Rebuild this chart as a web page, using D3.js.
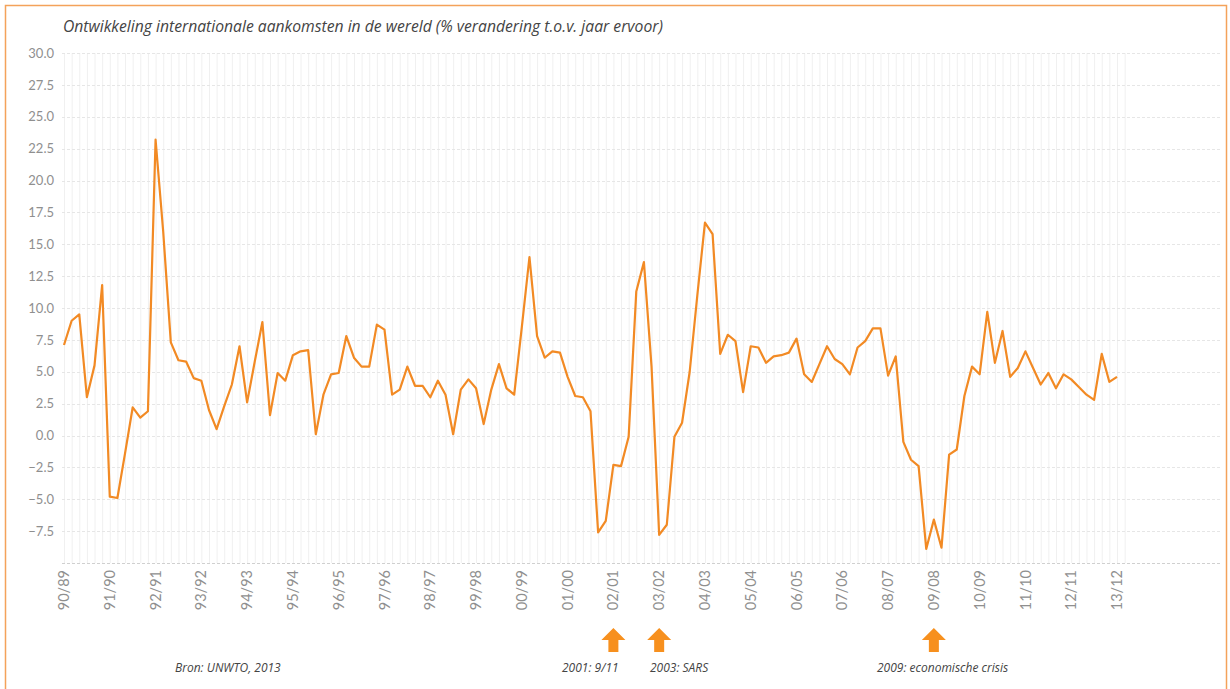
<!DOCTYPE html>
<html>
<head>
<meta charset="utf-8">
<script src="https://cdn.jsdelivr.net/npm/d3@7"></script>
<style>
  html, body { margin: 0; padding: 0; background: #fff; }
  svg { display: block; }
</style>
</head>
<body>
<svg id="chart" width="1230" height="689"></svg>
<script>
const title = "Ontwikkeling internationale aankomsten in de wereld (% verandering t.o.v. jaar ervoor)";
const yearLabels = ["90/89","91/90","92/91","93/92","94/93","95/94","96/95","97/96","98/97","99/98","00/99","01/00",
  "02/01","03/02","04/03","05/04","06/05","07/06","08/07","09/08","10/09","11/10","12/11","13/12"];
const pointsPerLabel = 6;
const values = [
  7.1, 9.0, 9.5, 3.0, 5.5, 11.8, -4.8, -4.9, -1.4, 2.2, 1.4, 1.9,
  23.2, 16.0, 7.3, 5.9, 5.8, 4.5, 4.3, 2.0, 0.5, 2.3, 4.0, 7.0,
  2.6, 5.8, 8.9, 1.6, 4.9, 4.3, 6.3, 6.6, 6.7, 0.1, 3.2, 4.8,
  4.9, 7.8, 6.1, 5.4, 5.4, 8.7, 8.3, 3.2, 3.6, 5.4, 3.9, 3.9,
  3.0, 4.3, 3.2, 0.1, 3.6, 4.4, 3.7, 0.9, 3.6, 5.6, 3.7, 3.2,
  8.5, 14.0, 7.8, 6.1, 6.6, 6.5, 4.6, 3.1, 3.0, 1.9, -7.6, -6.7,
  -2.3, -2.4, -0.1, 11.3, 13.6, 5.4, -7.8, -7.0, -0.1, 1.0, 5.0, 11.0,
  16.7, 15.8, 6.4, 7.9, 7.4, 3.4, 7.0, 6.9, 5.7, 6.2, 6.3, 6.5,
  7.6, 4.8, 4.2, 5.6, 7.0, 6.0, 5.6, 4.8, 6.9, 7.4, 8.4, 8.4,
  4.7, 6.2, -0.5, -1.9, -2.4, -8.9, -6.6, -8.8, -1.5, -1.1, 3.1, 5.4,
  4.8, 9.7, 5.7, 8.2, 4.6, 5.3, 6.6, 5.3, 4.0, 4.9, 3.7, 4.8,
  4.4, 3.8, 3.2, 2.8, 6.4, 4.2, 4.6
];
const yTicks = [-7.5, -5, -2.5, 0, 2.5, 5, 7.5, 10, 12.5, 15, 17.5, 20, 22.5, 25, 27.5, 30];
const yMin = -10, yMax = 30;
const events = [
  { label: "02/01", text: "2001: 9/11" },
  { label: "03/02", text: "2003: SARS" },
  { label: "09/08", text: "2009: economische crisis" }
];
const source = "Bron: UNWTO, 2013";

const svg = d3.select("#chart");
const orange = "#f28a24";

// frame
svg.append("rect").attr("x", 5.5).attr("y", 5.5).attr("width", 1221).attr("height", 700)
  .attr("fill", "none").attr("stroke", "#f4a25a").attr("stroke-width", 1.5);

const x = d3.scaleLinear().domain([0, values.length - 1]).range([64, 1117]);
const y = d3.scaleLinear().domain([yMin, yMax]).range([563, 53]);

// vertical grid
svg.append("g").selectAll("line").data(d3.range(values.length + 1)).join("line")
  .attr("x1", d => x(d) + 0.5).attr("x2", d => x(d) + 0.5)
  .attr("y1", y(yMax)).attr("y2", y(yMin))
  .attr("stroke", "#f0f0f0").attr("stroke-width", 1);

// horizontal grid
svg.append("g").selectAll("line").data([yMin].concat(yTicks)).join("line")
  .attr("x1", 62).attr("x2", 1222)
  .attr("y1", d => Math.round(y(d)) + 0.5).attr("y2", d => Math.round(y(d)) + 0.5)
  .attr("stroke", d => d === yMin ? "#d0d0d0" : "#e6e6e6")
  .attr("stroke-dasharray", "3,2").attr("stroke-width", 1);

// y axis labels
const yAxis = d3.axisLeft(y).tickValues(yTicks).tickFormat(d3.format(".1f")).tickSize(0).tickPadding(0);
const gy = svg.append("g").attr("transform", "translate(54,0)").call(yAxis);
gy.select(".domain").remove();
gy.selectAll("text").attr("font-family", "Lato, 'Open Sans', sans-serif").attr("font-size", 13)
  .attr("fill", "#8f8f8f");

// x axis labels
const xTickIdx = yearLabels.map((d, i) => i * pointsPerLabel);
const xAxis = d3.axisBottom(x).tickValues(xTickIdx).tickFormat((d, i) => yearLabels[i]).tickSize(0).tickPadding(0);
const gx = svg.append("g").attr("transform", "translate(0,570)").call(xAxis);
gx.select(".domain").remove();
gx.selectAll("text")
  .attr("font-family", "Lato, 'Open Sans', sans-serif").attr("font-size", 14.5).attr("fill", "#8f8f8f")
  .attr("text-anchor", "end").attr("dy", "0.35em")
  .attr("transform", "rotate(-90)")
  .attr("x", 0).attr("y", 0);
gx.selectAll(".tick").attr("transform", d => `translate(${x(d)},0)`);

// line
const line = d3.line().x((d, i) => x(i)).y(d => y(d));
svg.append("path").datum(values)
  .attr("d", line).attr("fill", "none").attr("stroke", orange)
  .attr("stroke-width", 2.2).attr("stroke-linejoin", "round");

// title
svg.append("text").attr("x", 63).attr("y", 32).text(title)
  .attr("font-family", "'Open Sans', Lato, sans-serif").attr("font-style", "italic")
  .attr("font-size", 15.7).attr("fill", "#444");

// events: arrows and texts
const arrowPath = "M0,0 L12,12 L5,12 L5,24 L-5,24 L-5,12 L-12,12 Z";
events.forEach(ev => {
  const idx = yearLabels.indexOf(ev.label) * pointsPerLabel;
  const cx = x(idx);
  svg.append("path").attr("d", arrowPath).attr("transform", `translate(${cx},628)`)
    .attr("fill", "#f7901e");
});
const textStyle = sel => sel.attr("font-family", "'Open Sans', Lato, sans-serif").attr("font-style", "italic")
  .attr("font-size", 12).attr("fill", "#444");
svg.append("text").attr("x", 175).attr("y", 672).text(source).call(textStyle);
svg.append("text").attr("x", 562).attr("y", 672).text(events[0].text).call(textStyle);
svg.append("text").attr("x", 650).attr("y", 672).text(events[1].text).call(textStyle);
svg.append("text").attr("x", 877).attr("y", 672).text(events[2].text).call(textStyle);
</script>
</body>
</html>
